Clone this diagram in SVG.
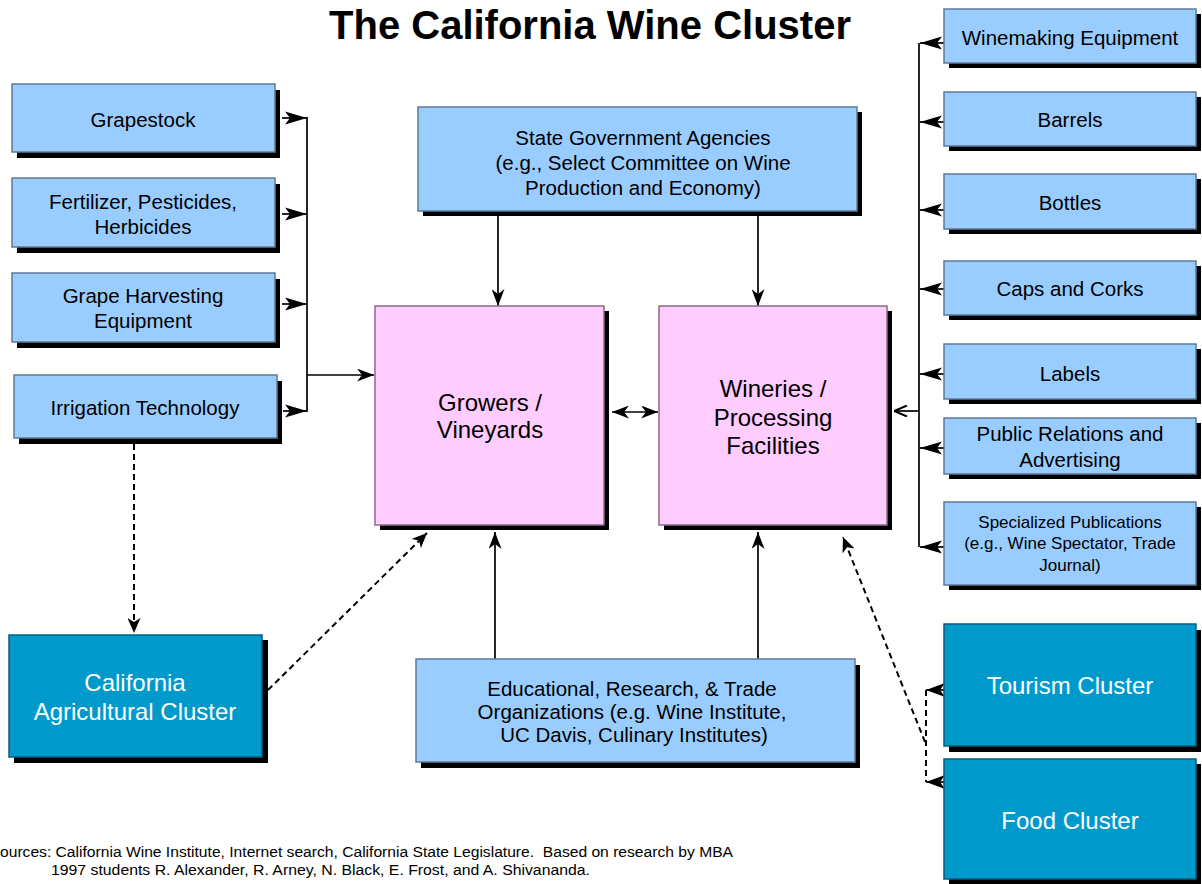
<svg xmlns="http://www.w3.org/2000/svg" width="1202" height="884" viewBox="0 0 1202 884">
<defs>
<style>
.t{font-family:"Liberation Sans",Arial,sans-serif;fill:#000;text-anchor:middle;dominant-baseline:central}
.b{font-size:20.5px}
.s{font-size:17px}
.l{font-size:24px}
.w{fill:#fff}
.lb{fill:#99CCFF;stroke:#5E7A96;stroke-width:1.5}
.pk{fill:#FFCCFF;stroke:#8C6A8C;stroke-width:1.5}
.db{fill:#0099CC;stroke:#0B5C7A;stroke-width:1.5}
.sh{fill:#000}
.ln{fill:none;stroke:#000;stroke-width:1.7}
.ds{fill:none;stroke:#000;stroke-width:2;stroke-dasharray:6 4}
</style>
<marker id="big" viewBox="0 0 22 14" refX="22" refY="7" markerWidth="22" markerHeight="14" markerUnits="userSpaceOnUse" orient="auto">
<path d="M0,0.5 L22,7 L0,13.5 L5,7 Z" fill="#000"/>
</marker>
<marker id="mid" viewBox="0 0 17 13" refX="17" refY="6.5" markerWidth="17" markerHeight="13" markerUnits="userSpaceOnUse" orient="auto-start-reverse">
<path d="M0,0 L17,6.5 L0,13 L5,6.5 Z" fill="#000"/>
</marker>
<marker id="opn" viewBox="0 0 14 12" refX="14" refY="6" markerWidth="14" markerHeight="12" markerUnits="userSpaceOnUse" orient="auto">
<path d="M1,0.5 L14,6 L1,11.5" fill="none" stroke="#000" stroke-width="2"/>
</marker>
<marker id="dsh" viewBox="0 0 15 13" refX="15" refY="6.5" markerWidth="15" markerHeight="13" markerUnits="userSpaceOnUse" orient="auto">
<path d="M0,0 L15,6.5 L0,13 L4,6.5 Z" fill="#000"/>
</marker>
<marker id="dbg" viewBox="0 0 19 14" refX="19" refY="7" markerWidth="19" markerHeight="14" markerUnits="userSpaceOnUse" orient="auto">
<path d="M0,0 L19,7 L0,14 L5,7 Z" fill="#000"/>
</marker>
</defs>
<rect width="1202" height="884" fill="#fff"/>

<text x="590" y="39" font-family="'Liberation Sans',Arial,sans-serif" font-size="40" font-weight="bold" text-anchor="middle">The California Wine Cluster</text>

<g id="connectors">
<line class="ln" x1="282" y1="118" x2="307" y2="118" marker-end="url(#big)"/>
<line class="ln" x1="282" y1="214" x2="307" y2="214" marker-end="url(#big)"/>
<line class="ln" x1="282" y1="304" x2="307" y2="304" marker-end="url(#big)"/>
<line class="ln" x1="283" y1="411" x2="307" y2="411" marker-end="url(#big)"/>
<line class="ln" x1="307" y1="117" x2="307" y2="412"/>
<line class="ln" x1="307" y1="375" x2="374" y2="375" marker-end="url(#mid)"/>
<line class="ln" x1="498" y1="216" x2="498" y2="306" marker-end="url(#mid)"/>
<line class="ln" x1="758" y1="216" x2="758" y2="306" marker-end="url(#mid)"/>
<line class="ln" x1="612" y1="412" x2="658" y2="412" marker-start="url(#mid)" marker-end="url(#mid)"/>
<line class="ln" x1="495" y1="659" x2="495" y2="532" marker-end="url(#mid)"/>
<line class="ln" x1="758" y1="659" x2="758" y2="532" marker-end="url(#mid)"/>
<line class="ln" x1="919" y1="43" x2="919" y2="547"/>
<line class="ln" x1="944" y1="43" x2="920" y2="43" marker-end="url(#big)"/>
<line class="ln" x1="944" y1="122" x2="920" y2="122" marker-end="url(#big)"/>
<line class="ln" x1="944" y1="210" x2="920" y2="210" marker-end="url(#big)"/>
<line class="ln" x1="944" y1="289" x2="920" y2="289" marker-end="url(#big)"/>
<line class="ln" x1="944" y1="374" x2="920" y2="374" marker-end="url(#big)"/>
<line class="ln" x1="944" y1="448" x2="920" y2="448" marker-end="url(#big)"/>
<line class="ln" x1="944" y1="547" x2="920" y2="547" marker-end="url(#big)"/>
<line class="ln" x1="919" y1="411" x2="894" y2="411" marker-end="url(#opn)"/>
<line class="ds" x1="134" y1="444" x2="134" y2="633" marker-end="url(#dsh)"/>
<line class="ds" x1="268" y1="690" x2="427" y2="533" marker-end="url(#dsh)"/>
<line class="ds" x1="925" y1="742" x2="843" y2="537" marker-end="url(#dsh)"/>
<line class="ds" x1="926" y1="690" x2="926" y2="782"/>
<line class="ln" x1="944" y1="690" x2="926" y2="690" marker-end="url(#dbg)"/>
<line class="ln" x1="944" y1="782" x2="926" y2="782" marker-end="url(#dbg)"/>
</g>

<g id="grapestock">
<rect class="sh" x="17" y="90" width="263" height="68"/>
<rect class="lb" x="12" y="84" width="263" height="68"/>
<text class="t b" x="143" y="119">Grapestock</text>
</g>
<g id="fertilizer">
<rect class="sh" x="17" y="184" width="263" height="69"/>
<rect class="lb" x="12" y="178" width="263" height="69"/>
<text class="t b" x="143" y="201">Fertilizer, Pesticides,</text>
<text class="t b" x="143" y="226">Herbicides</text>
</g>
<g id="harvesting">
<rect class="sh" x="17" y="279" width="263" height="69"/>
<rect class="lb" x="12" y="273" width="263" height="69"/>
<text class="t b" x="143" y="295">Grape Harvesting</text>
<text class="t b" x="143" y="320">Equipment</text>
</g>
<g id="irrigation">
<rect class="sh" x="19" y="381" width="263" height="63"/>
<rect class="lb" x="14" y="375" width="263" height="63"/>
<text class="t b" x="145" y="407">Irrigation Technology</text>
</g>

<g id="stategov">
<rect class="sh" x="423" y="112" width="439" height="104"/>
<rect class="lb" x="418" y="107" width="439" height="104"/>
<text class="t b" x="643" y="137">State Government Agencies</text>
<text class="t b" x="643" y="162">(e.g., Select Committee on Wine</text>
<text class="t b" x="643" y="187">Production and Economy)</text>
</g>

<g id="growers">
<rect class="sh" x="380" y="311" width="229" height="219"/>
<rect class="pk" x="375" y="306" width="229" height="219"/>
<text class="t l" x="490" y="402">Growers /</text>
<text class="t l" x="490" y="429">Vineyards</text>
</g>
<g id="wineries">
<rect class="sh" x="664" y="311" width="228" height="219"/>
<rect class="pk" x="659" y="306" width="228" height="219"/>
<text class="t l" x="773" y="388">Wineries /</text>
<text class="t l" x="773" y="417">Processing</text>
<text class="t l" x="773" y="445">Facilities</text>
</g>

<g id="educational">
<rect class="sh" x="421" y="665" width="439" height="103"/>
<rect class="lb" x="416" y="659" width="439" height="103"/>
<text class="t b" x="632" y="688">Educational, Research, &amp; Trade</text>
<text class="t b" x="632" y="711">Organizations (e.g. Wine Institute,</text>
<text class="t b" x="634" y="734">UC Davis, Culinary Institutes)</text>
</g>

<g id="agri">
<rect class="sh" x="14" y="640" width="254" height="123"/>
<rect class="db" x="9" y="635" width="253" height="122"/>
<text class="t l w" x="135" y="682">California</text>
<text class="t l w" x="135" y="711">Agricultural Cluster</text>
</g>

<g id="winemaking">
<rect class="sh" x="949" y="14" width="252" height="54"/>
<rect class="lb" x="944" y="9" width="252" height="54"/>
<text class="t b" x="1070" y="37">Winemaking Equipment</text>
</g>
<g id="barrels">
<rect class="sh" x="949" y="97" width="252" height="54"/>
<rect class="lb" x="944" y="92" width="252" height="54"/>
<text class="t b" x="1070" y="119">Barrels</text>
</g>
<g id="bottles">
<rect class="sh" x="949" y="179" width="252" height="55"/>
<rect class="lb" x="944" y="174" width="252" height="55"/>
<text class="t b" x="1070" y="202">Bottles</text>
</g>
<g id="caps">
<rect class="sh" x="949" y="266" width="252" height="54"/>
<rect class="lb" x="944" y="261" width="252" height="54"/>
<text class="t b" x="1070" y="288">Caps and Corks</text>
</g>
<g id="labels">
<rect class="sh" x="949" y="349" width="252" height="55"/>
<rect class="lb" x="944" y="344" width="252" height="55"/>
<text class="t b" x="1070" y="373">Labels</text>
</g>
<g id="pr">
<rect class="sh" x="949" y="423" width="252" height="56"/>
<rect class="lb" x="944" y="418" width="252" height="56"/>
<text class="t b" x="1070" y="433">Public Relations and</text>
<text class="t b" x="1070" y="459">Advertising</text>
</g>
<g id="publications">
<rect class="sh" x="949" y="507" width="252" height="83"/>
<rect class="lb" x="944" y="502" width="252" height="83"/>
<text class="t s" x="1070" y="522">Specialized Publications</text>
<text class="t s" x="1070" y="543">(e.g., Wine Spectator, Trade</text>
<text class="t s" x="1070" y="565">Journal)</text>
</g>

<g id="tourism">
<rect class="sh" x="949" y="630" width="252" height="122"/>
<rect class="db" x="944" y="624" width="252" height="122"/>
<text class="t l w" x="1070" y="685">Tourism Cluster</text>
</g>
<g id="food">
<rect class="sh" x="949" y="764" width="252" height="120"/>
<rect class="db" x="944" y="759" width="252" height="120"/>
<text class="t l w" x="1070" y="820">Food Cluster</text>
</g>

<g id="footer" font-family="'Liberation Sans',Arial,sans-serif" font-size="14">
<text x="0" y="857" textLength="733" lengthAdjust="spacingAndGlyphs" xml:space="preserve">ources: California Wine Institute, Internet search, California State Legislature.  Based on research by MBA</text>
<text x="51" y="875" textLength="539" lengthAdjust="spacingAndGlyphs">1997 students R. Alexander, R. Arney, N. Black, E. Frost, and A. Shivananda.</text>
</g>
</svg>
